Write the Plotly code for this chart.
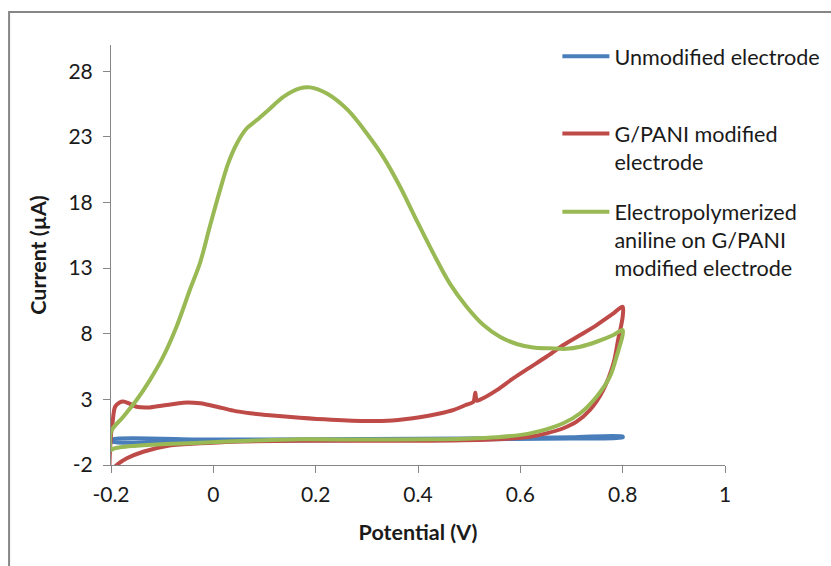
import plotly.graph_objects as go

# Cyclic voltammograms: potential (V) vs current (µA)
blue_v = [-0.200, 0.000, 0.200, 0.400, 0.600, 0.700, 0.800, 0.800, 0.700, 0.500, 0.300, 0.000, -0.200, -0.200]
blue_i = [-0.08, -0.06, -0.04, 0.00, 0.06, 0.11, 0.18, 0.10, 0.02, -0.05, -0.10, -0.16, -0.20, -0.08]

red_v = [-0.200, -0.200, -0.197, -0.192, -0.184, -0.176, -0.165, -0.150, -0.124, -0.091,
         -0.059, -0.026, 0.007, 0.039, 0.072, 0.104, 0.169, 0.230, 0.300, 0.350,
         0.400, 0.440, 0.470, 0.495, 0.508, 0.512, 0.515, 0.525, 0.554, 0.586,
         0.619, 0.651, 0.684, 0.717, 0.749, 0.782, 0.800, 0.800, 0.791, 0.782,
         0.762, 0.736, 0.710, 0.684, 0.651, 0.619, 0.554, 0.423, 0.300, 0.169,
         0.039, -0.026, -0.091, -0.137, -0.169, -0.189, -0.200]
red_i = [-2.40, 0.30, 1.20, 2.44, 2.75, 2.84, 2.70, 2.44, 2.39, 2.57,
         2.75, 2.70, 2.44, 2.14, 1.94, 1.81, 1.60, 1.45, 1.35, 1.40,
         1.62, 1.90, 2.20, 2.60, 2.80, 3.50, 2.90, 3.05, 3.71, 4.60,
         5.44, 6.25, 7.14, 7.90, 8.66, 9.55, 10.06, 9.30, 7.52, 5.75,
         3.71, 2.19, 1.30, 0.80, 0.41, 0.16, -0.04, -0.15, -0.15, -0.15,
         -0.22, -0.35, -0.55, -0.99, -1.49, -2.00, -2.40]

green_v = [-0.200, -0.176, -0.150, -0.124, -0.098, -0.072, -0.046, -0.026, -0.007, 0.013,
           0.029, 0.046, 0.065, 0.085, 0.111, 0.137, 0.169, 0.189, 0.222, 0.264,
           0.300, 0.332, 0.365, 0.397, 0.430, 0.462, 0.495, 0.528, 0.560, 0.593,
           0.625, 0.658, 0.690, 0.717, 0.749, 0.782, 0.800, 0.788, 0.775, 0.749,
           0.717, 0.684, 0.619, 0.554, 0.489, 0.423, 0.300, 0.169, 0.072, -0.026,
           -0.091, -0.156, -0.182, -0.195, -0.200, -0.200]
green_i = [0.54, 1.68, 2.95, 4.47, 6.25, 8.53, 11.33, 13.40, 16.15, 18.94,
           20.98, 22.50, 23.64, 24.28, 25.17, 26.05, 26.69, 26.77, 26.30, 25.00,
           23.26, 21.48, 19.20, 16.66, 14.12, 11.84, 10.06, 8.66, 7.77, 7.22,
           6.96, 6.89, 6.85, 7.01, 7.39, 7.90, 8.28, 6.25, 4.73, 3.20,
           1.94, 1.18, 0.41, 0.11, 0.00, -0.04, -0.06, -0.04, -0.15, -0.30,
           -0.40, -0.55, -0.65, -0.76, -0.86, 0.54]

series_names = [
    "Unmodified electrode",
    "G/PANI modified<br>electrode",
    "Electropolymerized<br>aniline on G/PANI<br>modified electrode",
]
series_colors = ["#4A7EBB", "#BE4B48", "#98B954"]

x_ticks = [-0.2, 0, 0.2, 0.4, 0.6, 0.8, 1]
x_tick_text = ["-0.2", "0", "0.2", "0.4", "0.6", "0.8", "1"]
y_ticks = [-2, 3, 8, 13, 18, 23, 28]
y_tick_text = ["-2", "3", "8", "13", "18", "23", "28"]

FONT = "Lato, 'Open Sans', sans-serif"
AXIS_GRAY = "#868686"
TEXT = "#1a1a1a"

fig = go.Figure()
data = [(blue_v, blue_i), (red_v, red_i), (green_v, green_i)]
legends = ["legend", "legend2", "legend3"]
for (v, i), name, color, lg in zip(data, series_names, series_colors, legends):
    fig.add_trace(go.Scatter(
        x=v, y=i, mode="lines", name=name, legend=lg,
        line=dict(color=color, width=4, shape="spline", smoothing=0.9),
    ))

legend_common = dict(
    xanchor="left", yanchor="top", x=0.727, valign="top",
    font=dict(family=FONT, size=21.6, color=TEXT),
    bgcolor="rgba(0,0,0,0)", itemwidth=47, tracegroupgap=0,
)

fig.update_layout(
    width=831, height=566,
    margin=dict(l=111, r=106, t=45, b=101, autoexpand=False),
    paper_bgcolor="white", plot_bgcolor="white",
    font=dict(family=FONT, size=21, color=TEXT),
    showlegend=True,
    legend=dict(y=1.022, **legend_common),
    legend2=dict(y=0.838, **legend_common),
    legend3=dict(y=0.652, **legend_common),
    xaxis=dict(
        range=[-0.2, 1], tickmode="array", tickvals=x_ticks, ticktext=x_tick_text,
        showgrid=False, zeroline=False, showline=True, linecolor=AXIS_GRAY, linewidth=1,
        ticks="outside", ticklen=7, tickcolor=AXIS_GRAY, ticklabelstandoff=4,
        tickfont=dict(family=FONT, size=21, color=TEXT),
        title=dict(text="<b>Potential (V)</b>", standoff=19,
                   font=dict(family=FONT, size=21.5, color=TEXT)),
    ),
    yaxis=dict(
        range=[-2, 30], tickmode="array", tickvals=y_ticks, ticktext=y_tick_text,
        showgrid=False, zeroline=False, showline=True, linecolor=AXIS_GRAY, linewidth=1,
        ticks="outside", ticklen=7, tickcolor=AXIS_GRAY, ticklabelstandoff=6,
        tickfont=dict(family=FONT, size=21, color=TEXT),
        title=dict(text="<b>Current (µA)</b>", standoff=15,
                   font=dict(family=FONT, size=21.5, color=TEXT)),
    ),
    shapes=[dict(
        type="rect", xref="paper", yref="paper",
        x0=-0.166, x1=1.4, y0=-0.4, y1=1.0786,
        line=dict(color=AXIS_GRAY, width=2), fillcolor="rgba(0,0,0,0)", layer="below",
    )],
)

fig.write_html("out.html")
